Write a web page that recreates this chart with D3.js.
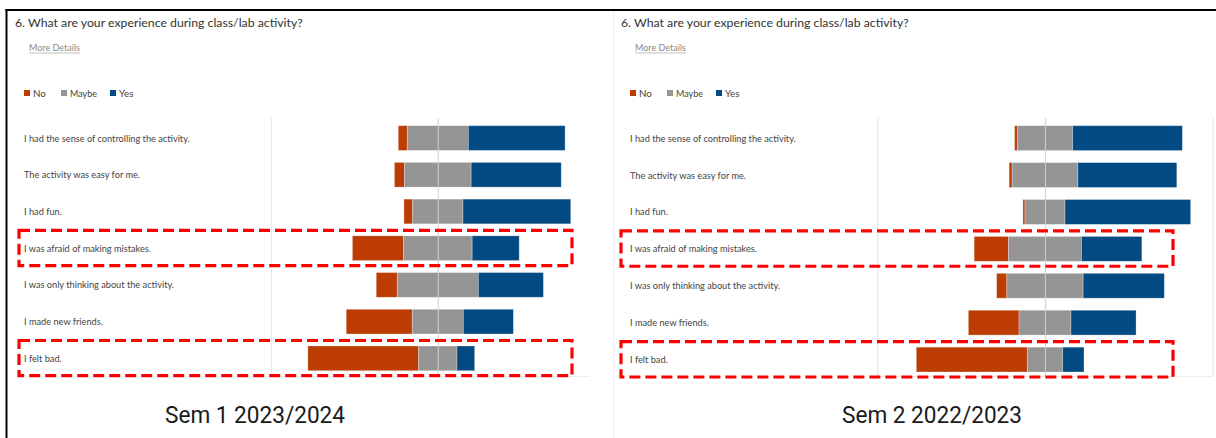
<!DOCTYPE html>
<html><head><meta charset="utf-8">
<script src="https://cdn.jsdelivr.net/npm/d3@7"></script>
<style>body{margin:0;background:#fff;} svg{display:block}</style>
</head><body><svg id="c" width="1216" height="438"></svg>
<script>
// ---------------- data ----------------
const categories = [
  "I had the sense of controlling the activity.",
  "The activity was easy for me.",
  "I had fun.",
  "I was afraid of making mistakes.",
  "I was only thinking about the activity.",
  "I made new friends.",
  "I felt bad."
];
const seriesNames = ["No", "Maybe", "Yes"];
// percentages of respondents, Sem 1 2023/2024
const sem1No    = [5.4, 6.0, 5.2, 30.6, 12.6, 39.6, 66.4];
const sem1Maybe = [36.6, 40.0, 30.2, 41.2, 48.6, 30.6, 23.0];
const sem1Yes   = [58.0, 54.0, 64.6, 28.2, 39.0, 30.0, 10.6];
// percentages of respondents, Sem 2 2022/2023
const sem2No    = [1.6, 1.8, 1.2, 20.5, 6.1, 30.2, 66.2];
const sem2Maybe = [33.0, 39.2, 23.9, 43.5, 45.5, 31.0, 21.1];
const sem2Yes   = [65.4, 59.0, 74.9, 36.0, 48.4, 38.8, 12.7];
const highlighted = ["I was afraid of making mistakes.", "I felt bad."];
const questionTitle = "6.  What are your experience during class/lab activity?";
const moreDetails = "More Details";
const semesterLabels = ["Sem 1 2023/2024", "Sem 2 2022/2023"];
const gridTicks = [-100, 100];
const centerTick = [0];

// ---------------- styles / layout ----------------
const colors = {No: "#bc3c04", Maybe: "#959595", Yes: "#034a83"};
const uiFont = "'Segoe UI', Lato, 'Noto Sans', sans-serif";

const panels = [
  {no: sem1No, maybe: sem1Maybe, yes: sem1Yes, caption: semesterLabels[0],
   ox: 0, gridL: 271, gridR: 604.6, yTop: 125.7, yBot: 370.7,
   clipX0: 8, clipX1: 590, boxX0: 19, boxX1: 572, captionX: 255},
  {no: sem2No, maybe: sem2Maybe, yes: sem2Yes, caption: semesterLabels[1],
   ox: 606, gridL: 877.3, gridR: 1212.7, yTop: 125.7, yBot: 372,
   clipX0: 613, clipX1: 1216, boxX0: 621, boxX1: 1173, captionX: 932}
];

const svg = d3.select("#c");
svg.append("rect").attr("width", 1216).attr("height", 438).attr("fill", "#fff");

function fitFont(sel, baseSize, target) {
  sel.attr("font-size", baseSize);
  const w = sel.node().getComputedTextLength();
  const fs = w > 0 ? baseSize * target / w : baseSize;
  sel.attr("font-size", fs);
  return fs;
}

panels.forEach((p, pi) => {
  const defs = svg.append("defs");
  defs.append("clipPath").attr("id", "clip" + pi)
    .append("rect").attr("x", p.clipX0).attr("y", 11)
    .attr("width", p.clipX1 - p.clipX0).attr("height", 427);
  const g = svg.append("g").attr("clip-path", `url(#clip${pi})`);

  const x = d3.scaleLinear().domain([-100, 100]).range([p.gridL, p.gridR]);
  const y = d3.scaleBand().domain(categories).range([p.yTop, p.yBot])
    .paddingInner(0.327).paddingOuter(0);

  // title
  const t = g.append("text").attr("x", p.ox + 15).attr("y", 26.5)
    .attr("font-family", uiFont).attr("fill", "#333").text(questionTitle);
  fitFont(t, 13, 288);

  // More Details
  const md = g.append("text").attr("x", p.ox + 29).attr("y", 51)
    .attr("font-family", uiFont).attr("fill", "#8a8a8a").text(moreDetails);
  fitFont(md, 10, 51);
  g.append("line").attr("x1", p.ox + 29).attr("x2", p.ox + 80)
    .attr("y1", 53).attr("y2", 53).attr("stroke", "#b0b0b0").attr("stroke-width", 0.8);

  // legend
  const legX = [24, 61, 110];
  seriesNames.forEach((s, i) => {
    g.append("rect").attr("x", p.ox + legX[i]).attr("y", 90)
      .attr("width", 6).attr("height", 6).attr("fill", colors[s]);
    const lt = g.append("text").attr("x", p.ox + legX[i] + 9).attr("y", 96.5)
      .attr("font-family", uiFont).attr("fill", "#444").text(s);
    if (s === "Maybe") fitFont(lt, 9.5, 27);
    else lt.attr("font-size", 9.8);
  });

  // grid axis (outer gridlines + bottom line)
  const axisH = 376 - 118;
  const ax = g.append("g").attr("transform", "translate(0,376)")
    .call(d3.axisBottom(x).tickValues(gridTicks).tickSize(-axisH).tickFormat(""));
  ax.select(".domain").attr("stroke", "#ededed").attr("stroke-width", 1);
  ax.selectAll(".tick line").attr("stroke", "#e8e8e8");

  // row labels
  const labels = g.append("g").selectAll("text").data(categories).join("text")
    .attr("x", p.ox + 24).attr("y", d => y(d) + y.bandwidth() / 2 + 3.5)
    .attr("font-family", uiFont).attr("fill", "#444").text(d => d);
  const first = d3.select(labels.nodes()[0]);
  const fs = fitFont(first, 10, 166);
  labels.attr("font-size", fs);

  // bars (neutral centred on 0)
  const rows = categories.map((c, i) => ({cat: c, no: p.no[i], maybe: p.maybe[i], yes: p.yes[i]}));
  const segs = [];
  rows.forEach(r => {
    const h = r.maybe / 2;
    segs.push({cat: r.cat, s: "No", x0: -h - r.no, x1: -h});
    segs.push({cat: r.cat, s: "Maybe", x0: -h, x1: h});
    segs.push({cat: r.cat, s: "Yes", x0: h, x1: h + r.yes});
  });
  g.append("g").selectAll("rect").data(segs).join("rect")
    .attr("x", d => x(d.x0)).attr("width", d => Math.max(0, x(d.x1) - x(d.x0)))
    .attr("y", d => y(d.cat)).attr("height", y.bandwidth())
    .attr("fill", d => colors[d.s])
    .attr("stroke", "rgba(255,255,255,0.35)").attr("stroke-width", 0.8);

  // centre line on top
  const cx = g.append("g").attr("transform", "translate(0,376)")
    .call(d3.axisBottom(x).tickValues(centerTick).tickSize(-axisH).tickFormat(""));
  cx.select(".domain").remove();
  cx.selectAll(".tick line").attr("stroke", "#d0d0d0").attr("stroke-opacity", 0.85).attr("stroke-width", 1.2);

  // red dashed highlight boxes
  svg.append("g").selectAll("rect").data(highlighted).join("rect")
    .attr("x", p.boxX0).attr("width", p.boxX1 - p.boxX0)
    .attr("y", d => y(d) - 5.5).attr("height", y.bandwidth() + 10.5)
    .attr("fill", "none").attr("stroke", "#ff0000").attr("stroke-width", 3.2)
    .attr("stroke-dasharray", "11 5");

  // caption
  svg.append("text").attr("x", p.captionX).attr("y", 423)
    .attr("text-anchor", "middle").attr("font-family", "Roboto, 'Liberation Sans', sans-serif")
    .attr("font-size", 24).attr("fill", "#1a1a1a")
    .attr("textLength", 180).attr("lengthAdjust", "spacingAndGlyphs")
    .text(p.caption);
});

// screenshot edge of right panel
svg.append("line").attr("x1", 613.5).attr("x2", 613.5).attr("y1", 11).attr("y2", 438)
  .attr("stroke", "#efefef").attr("stroke-width", 1);

// black frame (top and left)
svg.append("line").attr("x1", 5.5).attr("x2", 1216).attr("y1", 10).attr("y2", 10)
  .attr("stroke", "#000").attr("stroke-width", 2);
svg.append("line").attr("x1", 6.5).attr("x2", 6.5).attr("y1", 9).attr("y2", 438)
  .attr("stroke", "#000").attr("stroke-width", 2);
</script>
</body></html>
